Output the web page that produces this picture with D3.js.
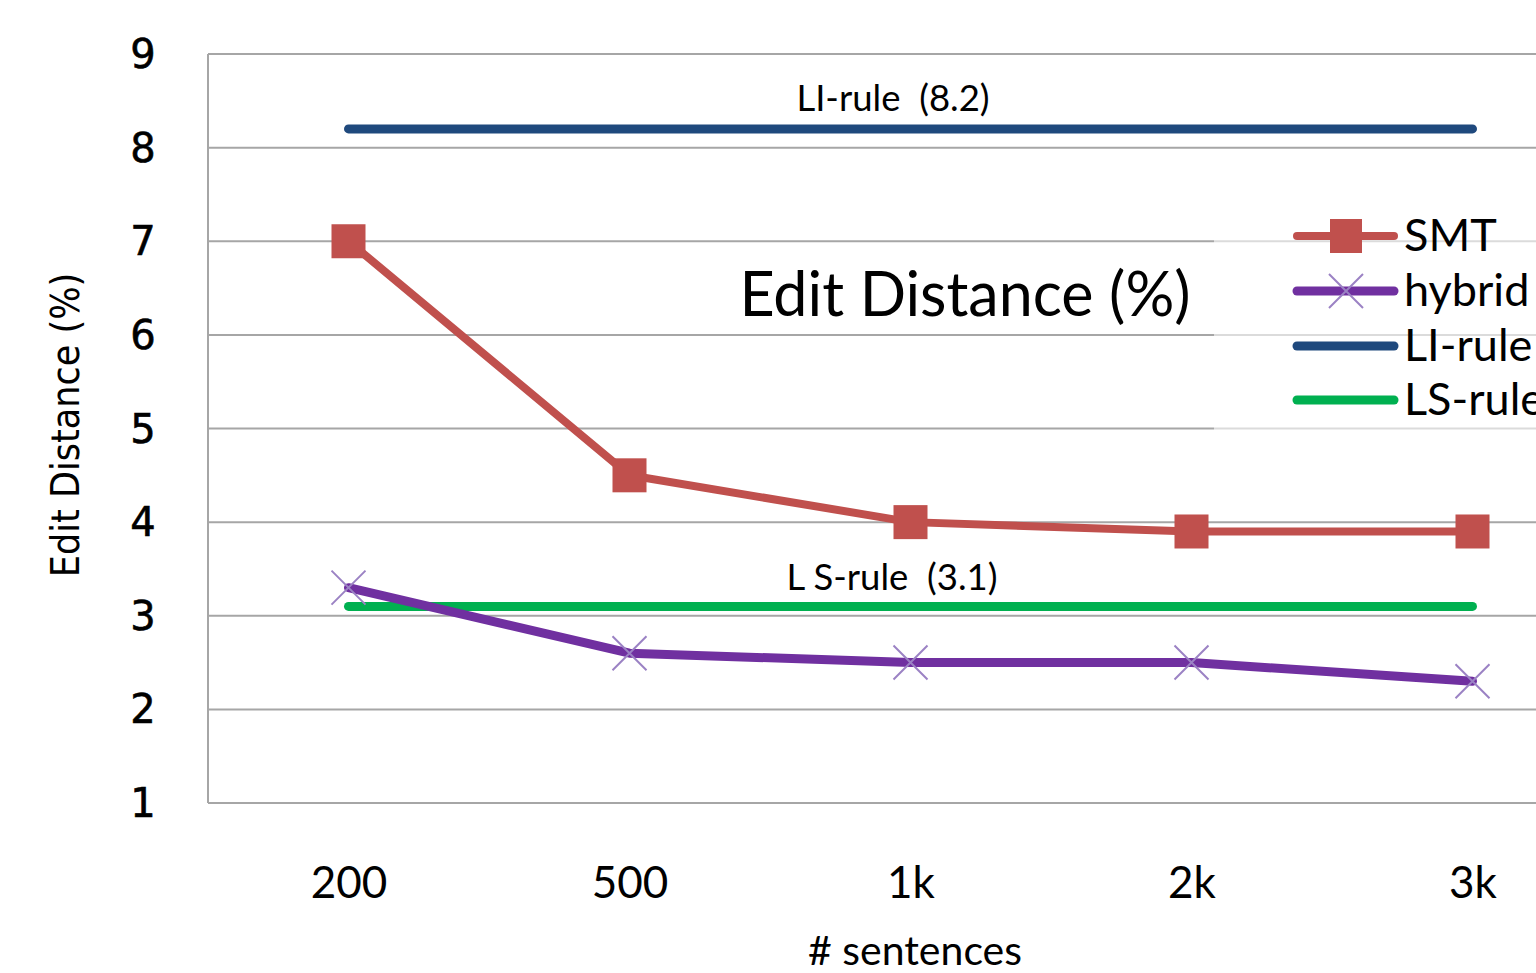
<!DOCTYPE html>
<html><head><meta charset="utf-8">
<script src="https://cdn.jsdelivr.net/npm/d3@7"></script>
<style>html,body{margin:0;padding:0;background:#fff;overflow:hidden}</style>
</head><body>
<svg id="c" width="1536" height="973"></svg>
<script>
const categories = ["200","500","1k","2k","3k"];
const smt = [7.0, 4.5, 4.0, 3.9, 3.9];
const hybrid = [3.3, 2.6, 2.5, 2.5, 2.3];
const liRule = [8.2, 8.2, 8.2, 8.2, 8.2];
const lsRule = [3.1, 3.1, 3.1, 3.1, 3.1];
const yTicks = [1,2,3,4,5,6,7,8,9];
const legendLabels = ["SMT","hybrid","LI-rule","LS-rule"];

const svg = d3.select("#c");
const L = 208, T = 54, B = 803, R = 208 + 5*281;
const x = d3.scalePoint().domain(categories).range([L, R]).padding(0.5);
const y = d3.scaleLinear().domain([1,9]).range([B, T]);
const calibri = "Lato, 'Open Sans', sans-serif";

// gridlines
svg.append("g").selectAll("line").data(yTicks.slice(1)).join("line")
  .attr("x1", L).attr("x2", R).attr("y1", d=>y(d)).attr("y2", d=>y(d))
  .attr("stroke", "#a6a6a6").attr("stroke-width", 2);
// plot border
svg.append("line").attr("x1",L).attr("x2",L).attr("y1",T).attr("y2",B).attr("stroke","#a6a6a6").attr("stroke-width",2);
svg.append("line").attr("x1",L).attr("x2",R).attr("y1",B).attr("y2",B).attr("stroke","#a6a6a6").attr("stroke-width",2);

// y axis
const yAxis = d3.axisLeft(y).tickValues(yTicks).tickSize(0).tickPadding(48).tickFormat(d3.format("d"));
const ga = svg.append("g").attr("transform",`translate(${L},0)`).call(yAxis);
ga.select(".domain").remove();
ga.selectAll("text").attr("font-family","'DejaVu Sans', Verdana, sans-serif").attr("font-size",40)
  .attr("fill","#000").attr("stroke","#000").attr("stroke-width",0.6)
  .attr("text-anchor","middle").attr("dx","-17").attr("dy","0.34em");

// x axis
const xAxis = d3.axisBottom(x).tickSize(0).tickPadding(64);
const gx = svg.append("g").attr("transform",`translate(0,${B})`).call(xAxis);
gx.select(".domain").remove();
gx.selectAll("text").attr("font-family",calibri).attr("font-size",44).attr("fill","#000");

// axis titles
svg.append("text").attr("x", 915).attr("y", 965).attr("text-anchor","middle")
  .attr("font-family",calibri).attr("font-size",41).attr("fill","#000").text("# sentences");
svg.append("text").attr("transform","translate(79,425) rotate(-90)").attr("text-anchor","middle")
  .attr("font-family","'DejaVu Sans Condensed', 'DejaVu Sans', sans-serif").attr("font-size",39).attr("fill","#000").text("Edit Distance (%)");

// reference lines
const line = d3.line().x((d,i)=>x(categories[i])).y(d=>y(d));
svg.append("path").datum(liRule).attr("d",line).attr("fill","none").attr("stroke","#1F497D").attr("stroke-width",9).attr("stroke-linecap","round");
svg.append("path").datum(lsRule).attr("d",line).attr("fill","none").attr("stroke","#00B050").attr("stroke-width",9).attr("stroke-linecap","round");

// annotations
svg.append("text").attr("x", 893).attr("y", 111).attr("text-anchor","middle")
  .attr("font-family",calibri).attr("font-size",36.5).attr("fill","#000").attr("xml:space","preserve").text("LI-rule  (8.2)");
svg.append("text").attr("x", 892).attr("y", 590).attr("text-anchor","middle")
  .attr("font-family",calibri).attr("font-size",36.5).attr("fill","#000").attr("xml:space","preserve").text("L S-rule  (3.1)");

// hybrid
svg.append("path").datum(hybrid).attr("d",line).attr("fill","none").attr("stroke","#7030A0").attr("stroke-width",9).attr("stroke-linejoin","round").attr("stroke-linecap","round");
const xm = 17;
const crossPath = (cx,cy)=>`M${cx-xm},${cy-xm}L${cx+xm},${cy+xm}M${cx+xm},${cy-xm}L${cx-xm},${cy+xm}`;
svg.append("g").selectAll("path").data(hybrid).join("path")
  .attr("d",(d,i)=>crossPath(x(categories[i]), y(d)))
  .attr("stroke","#9B82C4").attr("stroke-width",2).attr("fill","none");

// SMT
svg.append("path").datum(smt).attr("d",line).attr("fill","none").attr("stroke","#C0504D").attr("stroke-width",8).attr("stroke-linejoin","round");
const sq = 34;
svg.append("g").selectAll("rect").data(smt).join("rect")
  .attr("x",(d,i)=>x(categories[i])-sq/2).attr("y",d=>y(d)-sq/2).attr("width",sq).attr("height",sq)
  .attr("fill","#C0504D");

// title
svg.append("text").attr("x", 965).attr("y", 316).attr("text-anchor","middle")
  .attr("font-family",calibri).attr("font-size",61).attr("fill","#000").text("Edit Distance (%)");

// legend
const lg = svg.append("g");
lg.append("rect").attr("x",1214).attr("y",212).attr("width",330).attr("height",218).attr("fill","#fff").attr("opacity",0.6);
const legY = [236, 291, 346, 400];
const legColors = ["#C0504D","#7030A0","#1F497D","#00B050"];
legendLabels.forEach((lab,i)=>{
  lg.append("line").attr("x1",1297).attr("x2",1394).attr("y1",legY[i]).attr("y2",legY[i])
    .attr("stroke",legColors[i]).attr("stroke-width",i===0?8:9).attr("stroke-linecap","round");
  lg.append("text").attr("x",1404).attr("y",legY[i]+15).attr("font-family",calibri).attr("font-size",45).attr("fill","#000").text(lab);
});
lg.append("rect").attr("x",1346-16).attr("y",236-17).attr("width",32).attr("height",34).attr("fill","#C0504D");
lg.append("path").attr("d",crossPath(1346,291)).attr("stroke","#9B82C4").attr("stroke-width",2).attr("fill","none");
</script>
</body></html>
